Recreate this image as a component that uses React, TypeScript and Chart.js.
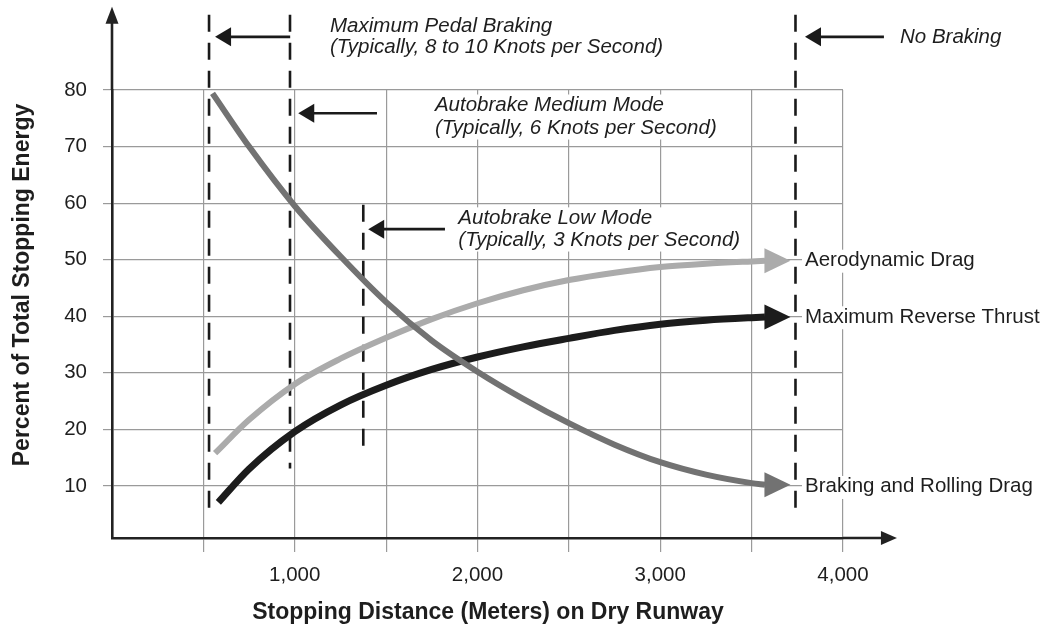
import { useEffect, useRef } from 'react';
import { Chart, registerables } from 'chart.js';

Chart.register(...registerables);

// ---- Data (stopping distance in metres, percent of total stopping energy) ----
const brakingX = [550, 750, 1000, 1250, 1500, 1750, 2000, 2250, 2500, 2750, 3000, 3250, 3500, 3573];
const brakingY = [79.4, 70, 59.5, 50.6, 42.5, 35.7, 30.2, 25.4, 21.1, 17.3, 14.2, 12.0, 10.5, 10.2];
const aeroX = [564, 750, 1000, 1250, 1500, 1750, 2000, 2250, 2500, 2750, 3000, 3250, 3500, 3573];
const aeroY = [15.8, 21.7, 28.0, 32.5, 36.2, 39.5, 42.3, 44.6, 46.4, 47.7, 48.7, 49.3, 49.7, 49.8];
const thrustX = [582, 750, 1000, 1250, 1500, 1750, 2000, 2250, 2500, 2750, 3000, 3250, 3500, 3573];
const thrustY = [7.1, 13.0, 19.6, 24.3, 27.8, 30.6, 32.8, 34.6, 36.1, 37.5, 38.6, 39.3, 39.75, 39.85];

const seriesNames = ['Braking and Rolling Drag', 'Aerodynamic Drag', 'Maximum Reverse Thrust'];

const xTickValues = [500, 1000, 1500, 2000, 2500, 3000, 3500, 4000];
const xTickLabels = ['', '1,000', '', '2,000', '', '3,000', '', '4,000'];
const yTickValues = [10, 20, 30, 40, 50, 60, 70, 80];
const yTickLabels = ['10', '20', '30', '40', '50', '60', '70', '80'];

// Braking-mode marker distances (dashed verticals): [x, yTop, yBottom]
const pedalMinLine = [531, 93.3, 4.9];
const pedalMaxLine = [974, 93.3, 13.1];
const autoLowLine = [1375, 59.7, 16.5];
const noBrakingLine = [3740, 93.3, 5.7];

const xTitle = 'Stopping Distance (Meters) on Dry Runway';
const yTitle = 'Percent of Total Stopping Energy';

const FAMILY = "'Liberation Sans', Arial, Helvetica, sans-serif";
const TEXT = '#1e1e1e';
const GRID = '#9a9a9a';
const COLORS = ['#727272', '#ababab', '#1c1c1c'];
const WIDTHS = [6, 6, 7];

// Annotations: arrow (y, fromX, tipX), text (x, baselines[], lines[])
const annotations = [
  { arrowY: 89.4, fromX: 975, tipX: 564, textX: 1193, baselines: [90.3, 86.5], lines: ['Maximum Pedal Braking', '(Typically, 8 to 10 Knots per Second)'], box: false },
  { arrowY: 75.9, fromX: 1450, tipX: 1019, textX: 1767, baselines: [76.2, 72.3], lines: ['Autobrake Medium Mode', '(Typically, 6 Knots per Second)'], box: true },
  { arrowY: 55.4, fromX: 1822, tipX: 1402, textX: 1895, baselines: [56.25, 52.5], lines: ['Autobrake Low Mode', '(Typically, 3 Knots per Second)'], box: true },
  { arrowY: 89.4, fromX: 4224, tipX: 3792, textX: 4312, baselines: [88.25], lines: ['No Braking'], box: false },
];
const seriesLabelX = 3792;

function arrowHead(ctx: CanvasRenderingContext2D, tx: number, ty: number, dx: number, dy: number, len: number, half: number, color: string) {
  const bx = tx - dx * len;
  const by = ty - dy * len;
  const nx = -dy;
  const ny = dx;
  ctx.beginPath();
  ctx.moveTo(tx, ty);
  ctx.lineTo(bx + nx * half, by + ny * half);
  ctx.lineTo(bx - nx * half, by - ny * half);
  ctx.closePath();
  ctx.fillStyle = color;
  ctx.fill();
}

const decor = {
  id: 'decor',
  beforeDatasetsDraw(chart: any) {
    const { ctx, scales } = chart;
    const xs = scales.x;
    const ys = scales.y;
    const px = (v: number) => xs.getPixelForValue(v);
    const py = (v: number) => ys.getPixelForValue(v);
    ctx.save();
    // white boxes behind annotation text
    ctx.font = `italic 20.5px ${FAMILY}`;
    annotations.forEach((a) => {
      if (!a.box) return;
      const w = Math.max(...a.lines.map((l) => ctx.measureText(l).width));
      const top = py(a.baselines[0]) - 17;
      const bottom = py(a.baselines[a.baselines.length - 1]) + 6;
      ctx.fillStyle = '#ffffff';
      ctx.fillRect(px(a.textX) - 3, top, w + 6, bottom - top);
    });
    // white boxes behind series labels
    ctx.font = `20.5px ${FAMILY}`;
    [brakingY, aeroY, thrustY].forEach((arr, i) => {
      const yy = py(Math.round(arr[arr.length - 1]));
      const w = ctx.measureText(seriesNames[i]).width;
      ctx.fillStyle = '#ffffff';
      ctx.fillRect(px(seriesLabelX) - 3, yy - 10, w + 6, 23);
    });
    // dashed verticals
    ctx.strokeStyle = '#1a1a1a';
    ctx.lineWidth = 2.6;
    ctx.setLineDash([17, 11]);
    [pedalMinLine, pedalMaxLine, autoLowLine, noBrakingLine].forEach(([x, t, b]) => {
      ctx.beginPath();
      ctx.moveTo(px(x), py(t));
      ctx.lineTo(px(x), py(b));
      ctx.stroke();
    });
    ctx.restore();
  },
  afterDatasetsDraw(chart: any) {
    const { ctx, scales } = chart;
    const xs = scales.x;
    const ys = scales.y;
    const px = (v: number) => xs.getPixelForValue(v);
    const py = (v: number) => ys.getPixelForValue(v);
    ctx.save();
    ctx.setLineDash([]);

    // curve arrowheads
    [[brakingX, brakingY], [aeroX, aeroY], [thrustX, thrustY]].forEach(([xa, ya], i) => {
      const bx = px(xa[xa.length - 1]) - 0.5;
      const by = py(ya[ya.length - 1]);
      arrowHead(ctx, bx + 26, by, 1, 0, 26, 12.5, COLORS[i]);
    });

    // series labels
    ctx.font = `20.5px ${FAMILY}`;
    ctx.fillStyle = TEXT;
    ctx.textAlign = 'left';
    ctx.textBaseline = 'alphabetic';
    [brakingY, aeroY, thrustY].forEach((arr, i) => {
      const yy = py(Math.round(arr[arr.length - 1]));
      ctx.fillText(seriesNames[i], px(seriesLabelX), yy + 6.5);
    });

    // annotation arrows and text
    annotations.forEach((a) => {
      const y = py(a.arrowY);
      const x0 = px(a.fromX);
      const x1 = px(a.tipX);
      ctx.strokeStyle = '#1a1a1a';
      ctx.lineWidth = 2.6;
      ctx.beginPath();
      ctx.moveTo(x0, y);
      ctx.lineTo(x1 + 10, y);
      ctx.stroke();
      arrowHead(ctx, x1, y, -1, 0, 16, 9.5, '#1a1a1a');
      ctx.font = `italic 20.5px ${FAMILY}`;
      ctx.fillStyle = TEXT;
      a.lines.forEach((l, k) => ctx.fillText(l, px(a.textX), py(a.baselines[k])));
    });

    // axis extensions with arrows
    const ax = xs.left;
    const ay = ys.bottom;
    ctx.strokeStyle = '#222';
    ctx.lineWidth = 2.6;
    ctx.beginPath();
    ctx.moveTo(ax, ys.top);
    ctx.lineTo(ax, py(94.7) + 12);
    ctx.stroke();
    arrowHead(ctx, ax, py(94.7), 0, -1, 17, 6.5, '#222');
    ctx.beginPath();
    ctx.moveTo(xs.right, ay);
    ctx.lineTo(px(4295) - 12, ay);
    ctx.stroke();
    arrowHead(ctx, px(4295), ay, 1, 0, 16, 7, '#222');

    // axis titles
    ctx.fillStyle = TEXT;
    ctx.font = `bold 23px ${FAMILY}`;
    ctx.textAlign = 'center';
    ctx.fillText(xTitle, 488, 619.3);
    ctx.save();
    ctx.translate(28.5, 285);
    ctx.rotate(-Math.PI / 2);
    ctx.fillText(yTitle, 0, 0);
    ctx.restore();

    ctx.restore();
  },
};

export default function App() {
  const ref = useRef<HTMLCanvasElement>(null);
  useEffect(() => {
    const mk = (xa: number[], ya: number[]) => xa.map((x, i) => ({ x, y: ya[i] }));
    const chart = new Chart(ref.current as HTMLCanvasElement, {
      type: 'scatter',
      data: {
        datasets: [
          { label: seriesNames[0], data: mk(brakingX, brakingY) },
          { label: seriesNames[1], data: mk(aeroX, aeroY) },
          { label: seriesNames[2], data: mk(thrustX, thrustY) },
        ].map((d, i) => ({
          ...d,
          showLine: true,
          borderColor: COLORS[i],
          backgroundColor: COLORS[i],
          borderWidth: WIDTHS[i],
          pointRadius: 0,
          cubicInterpolationMode: 'monotone' as const,
          borderCapStyle: 'butt' as const,
          borderJoinStyle: 'round' as const,
          clip: false as any,
        })),
      },
      options: {
        responsive: false,
        animation: false,
        devicePixelRatio: 1,
        layout: { padding: { top: 90, right: 208, left: 0, bottom: 0 } },
        plugins: { legend: { display: false }, tooltip: { enabled: false } },
        scales: {
          x: {
            type: 'linear',
            min: 0,
            max: 4000,
            afterBuildTicks: (s: any) => {
              s.ticks = xTickValues.map((v) => ({ value: v }));
            },
            afterFit: (s: any) => {
              s.height = 92;
            },
            ticks: {
              autoSkip: false,
              maxRotation: 0,
              padding: 11,
              color: TEXT,
              font: { family: FAMILY, size: 20.5 },
              callback: (_v: any, i: number) => xTickLabels[i],
            },
            grid: { color: GRID, lineWidth: 1.2, tickLength: 14 },
            border: { color: '#222', width: 2.6 },
          },
          y: {
            type: 'linear',
            min: 0.8,
            max: 80,
            afterBuildTicks: (s: any) => {
              s.ticks = yTickValues.map((v) => ({ value: v }));
            },
            afterFit: (s: any) => {
              s.width = 112;
            },
            ticks: {
              padding: 16,
              color: TEXT,
              font: { family: FAMILY, size: 20.5 },
              callback: (_v: any, i: number) => yTickLabels[i],
            },
            grid: { color: GRID, lineWidth: 1.2, tickLength: 9 },
            border: { color: '#222', width: 2.6 },
          },
        },
      },
      plugins: [decor],
    } as any);
    return () => chart.destroy();
  }, []);
  return (
    <div style={{ position: 'fixed', left: 0, top: 0, width: 1051, height: 630, background: '#fff' }}>
      <canvas ref={ref} width={1051} height={630} style={{ display: 'block', width: 1051, height: 630 }} />
    </div>
  );
}
